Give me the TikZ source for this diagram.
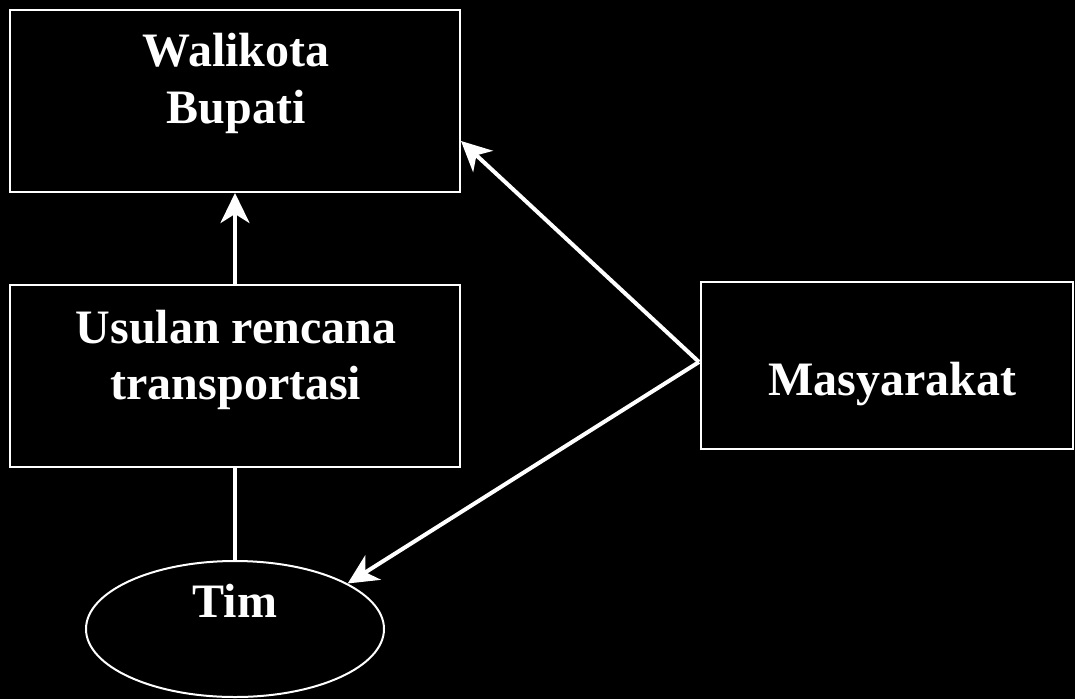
\documentclass[tikz,border=0pt]{standalone}
\usepackage{fontspec}
\setmainfont{Liberation Serif}
\usetikzlibrary{arrows.meta,shapes.geometric,calc}
\begin{document}
\begin{tikzpicture}[x=1pt,y=-1pt,
  box/.style={draw=white,line width=2pt,rectangle,inner sep=0pt},
  oval/.style={draw=white,line width=2pt,ellipse,inner sep=0pt},
  txt/.style={text=white,anchor=base,inner sep=0pt,font=\fontsize{48}{56}\selectfont\bfseries},
  conn/.style={draw=white,line width=4pt},
  arr/.style={conn,-{Stealth[length=30pt,width=29pt,inset=9pt]}}]
\fill[black] (0,0) rectangle (1075,699);
\useasboundingbox (0,0) rectangle (1075,699);
\node[box,minimum width=450pt,minimum height=182pt] (wb) at (235,101) {};
\node[box,minimum width=450pt,minimum height=182pt] (us) at (235,376) {};
\node[box,minimum width=372pt,minimum height=167pt] (ms) at (887,365.5) {};
\node[oval,minimum width=298pt,minimum height=136pt] (tim) at (235,629) {};
\node[txt] (t1) at (236,66) {Walikota};
\node[txt] (t2) at (236,123) {Bupati};
\node[txt] (t3) at (236,343) {Usulan rencana};
\node[txt] (t4) at (236,399) {transportasi};
\node[txt] (t5) at (892,395) {Masyarakat};
\node[txt] (t6) at (235,617) {Tim};
\coordinate (hit) at (461,141);
\coordinate (src) at (699,362);
\draw[arr] (us.north) -- (wb.south);
\draw[conn] (tim.north) -- (us.south);
\draw[arr] (src) -- (hit);
\draw[arr] (src) -- (tim.22);
\end{tikzpicture}
\end{document}
